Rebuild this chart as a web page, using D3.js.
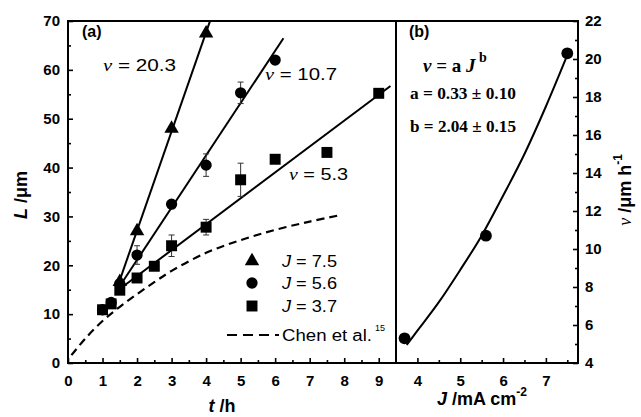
<!DOCTYPE html>
<html>
<head>
<meta charset="utf-8">
<script src="https://cdn.jsdelivr.net/npm/d3@7.9.0/dist/d3.min.js"></script>
<style>
  body { margin: 0; background: #fff; }
  svg { display: block; }
  .tick text { font-family: 'Liberation Sans', Arial, sans-serif; font-weight: bold; font-size: 15px; fill: #000; }
  .tick line { stroke: #000; stroke-width: 1.6; }
  .sans { font-family: 'Liberation Sans', Arial, sans-serif; }
  .serif { font-family: 'Liberation Serif', 'Times New Roman', serif; }
</style>
</head>
<body>
<svg width="641" height="417"></svg>
<script>
// panel (a): growth length L vs time t
const tTri = [1.5, 2, 3, 4];
const LTri = [16.6, 27, 48, 67.5];

const tCirc = [1, 1.25, 1.5, 2, 3, 4, 5, 6];
const LCirc = [10.9, 12.4, 16.2, 22.1, 32.5, 40.5, 55.3, 62];
const errCirc = [0, 0, 0, 1.9, 0, 2.3, 2.2, 0];

const tSq = [1, 1.25, 1.5, 2, 2.5, 3, 4, 5, 6, 7.5, 9];
const LSq = [10.9, 12.1, 14.9, 17.4, 19.8, 24, 27.8, 37.5, 41.7, 43.1, 55.2];
const errSq = [0, 0, 0, 0, 0, 2.2, 1.6, 3.4, 0, 0, 0];

// linear fits: rate (um/h), intercept, end time
const fitRate = [20.3, 10.7, 5.3];
const fitIntercept = [-13.5, -0.3, 7.2];
const fitStart = 1.4;
const fitEnd = [4.11, 6.24, 9.34];

// Chen et al. curve
const chenT = [0.1, 0.5, 1, 1.5, 2, 2.5, 3, 4, 5, 6, 7, 7.9];
const chenL = [1.6, 5.0, 8.6, 11.5, 14.1, 16.55, 18.85, 22.55, 25.15, 27.25, 28.95, 30.3];

// panel (b): rate v vs current density J
const JVals = [3.7, 5.6, 7.5];
const vVals = [5.3, 10.7, 20.3];
const fitJ = [3.75, 4, 4.5, 5, 5.5, 6, 6.5, 7, 7.5];
const fitV = [4.95, 5.7, 7.2, 8.9, 10.7, 12.8, 15.0, 17.5, 20.2];

const xTicksA = d3.range(0, 10);
const yTicksA = d3.range(0, 80, 10);
const xTicksB = [4, 5, 6, 7];
const yTicksB = d3.range(4, 24, 2);

const svg = d3.select('svg');
const pTop = 21, pBottom = 363, pLeft = 68, pMid = 396, pRight = 578;

const xA = d3.scaleLinear().domain([0, 9.5]).range([pLeft, pMid]);
const yA = d3.scaleLinear().domain([0, 70]).range([pBottom, pTop]);
const xB = d3.scaleLinear().domain([3.5, 7.75]).range([pMid, pRight]);
const yB = d3.scaleLinear().domain([4, 22]).range([pBottom, pTop]);

function addAxis(axis, transform) {
  const g = svg.append('g').attr('transform', transform).call(axis);
  g.select('.domain').remove();
  return g;
}

// major ticks + labels
addAxis(d3.axisBottom(xA).tickValues(xTicksA).tickSize(-5).tickPadding(12).tickFormat(d3.format('d')), `translate(0,${pBottom})`);
addAxis(d3.axisLeft(yA).tickValues(yTicksA).tickSize(-5).tickPadding(8), `translate(${pLeft},0)`);
addAxis(d3.axisBottom(xB).tickValues(xTicksB).tickSize(-5).tickPadding(12).tickFormat(d3.format('d')), `translate(0,${pBottom})`);
addAxis(d3.axisRight(yB).tickValues(yTicksB).tickSize(-5).tickPadding(7), `translate(${pRight},0)`);
// minor ticks
addAxis(d3.axisBottom(xA).tickValues(d3.range(0.5, 9.5, 1)).tickSize(-3).tickFormat(''), `translate(0,${pBottom})`);
addAxis(d3.axisLeft(yA).tickValues(d3.range(5, 70, 10)).tickSize(-3).tickFormat(''), `translate(${pLeft},0)`);
addAxis(d3.axisBottom(xB).tickValues([4.5, 5.5, 6.5, 7.5]).tickSize(-3).tickFormat(''), `translate(0,${pBottom})`);
addAxis(d3.axisRight(yB).tickValues(d3.range(5, 22, 2)).tickSize(-3).tickFormat(''), `translate(${pRight},0)`);

// frame
const frame = svg.append('g').attr('stroke', '#000').attr('stroke-width', 2).attr('fill', 'none');
frame.append('rect').attr('x', pLeft).attr('y', pTop).attr('width', pRight - pLeft).attr('height', pBottom - pTop);
frame.append('line').attr('x1', pMid).attr('x2', pMid).attr('y1', pTop).attr('y2', pBottom);

// clip for panel a
svg.append('clipPath').attr('id', 'clipA').append('rect')
  .attr('x', pLeft).attr('y', pTop).attr('width', pMid - pLeft).attr('height', pBottom - pTop);
const gA = svg.append('g').attr('clip-path', 'url(#clipA)');

// Chen dashed curve
const chen = chenT.map((t, i) => [t, chenL[i]]);
gA.append('path')
  .attr('d', d3.line().x(d => xA(d[0])).y(d => yA(d[1])).curve(d3.curveCatmullRom)(chen))
  .attr('fill', 'none').attr('stroke', '#000').attr('stroke-width', 2.2).attr('stroke-dasharray', '8,5');

// fit lines
fitRate.forEach((r, i) => {
  const b = fitIntercept[i];
  gA.append('line')
    .attr('x1', xA(fitStart)).attr('y1', yA(r * fitStart + b))
    .attr('x2', xA(fitEnd[i])).attr('y2', yA(r * fitEnd[i] + b))
    .attr('stroke', '#000').attr('stroke-width', 2);
});

// error bars
function errorBars(ts, Ls, errs) {
  ts.forEach((t, i) => {
    if (!errs[i]) return;
    const g = gA.append('g').attr('stroke', '#333').attr('stroke-width', 1);
    const x = xA(t);
    g.append('line').attr('x1', x).attr('x2', x).attr('y1', yA(Ls[i] - errs[i])).attr('y2', yA(Ls[i] + errs[i]));
    [Ls[i] - errs[i], Ls[i] + errs[i]].forEach(v => {
      g.append('line').attr('x1', x - 3).attr('x2', x + 3).attr('y1', yA(v)).attr('y2', yA(v));
    });
  });
}
errorBars(tSq, LSq, errSq);
errorBars(tCirc, LCirc, errCirc);

const sq = d3.symbol(d3.symbolSquare, 120);
const circ = d3.symbol(d3.symbolCircle, 100);
const tri = d3.symbol(d3.symbolTriangle, 90);

gA.selectAll('.sq').data(tSq).join('path')
  .attr('d', sq).attr('transform', (t, i) => `translate(${xA(t)},${yA(LSq[i])})`);
gA.selectAll('.ci').data(tCirc).join('path')
  .attr('d', circ).attr('transform', (t, i) => `translate(${xA(t)},${yA(LCirc[i])})`);
gA.selectAll('.tr').data(tTri).join('path')
  .attr('d', tri).attr('transform', (t, i) => `translate(${xA(t)},${yA(LTri[i])})`);

// panel b
const fit = fitJ.map((j, i) => [j, fitV[i]]);
svg.append('path')
  .attr('d', d3.line().x(d => xB(d[0])).y(d => yB(d[1])).curve(d3.curveMonotoneX)(fit))
  .attr('fill', 'none').attr('stroke', '#000').attr('stroke-width', 2);
svg.selectAll('.cb').data(JVals).join('path')
  .attr('d', d3.symbol(d3.symbolCircle, 110))
  .attr('transform', (j, i) => `translate(${xB(j)},${yB(vVals[i])})`);

// text helpers
function txt(x, y, cls, size, weight) {
  return svg.append('text').attr('x', x).attr('y', y).attr('class', cls)
    .attr('font-size', size).attr('font-weight', weight || 'normal');
}
function stretch(t, w) {
  return t.attr('textLength', w).attr('lengthAdjust', 'spacingAndGlyphs');
}

txt(82, 37, 'sans', 16, 'bold').text('(a)');
txt(409, 37, 'sans', 16, 'bold').text('(b)');

// rate labels
[[103, 71, '20.3', 73], [265, 80, '10.7', 72], [289, 180, '5.3', 59]].forEach(([x, y, v, w]) => {
  const t = stretch(txt(x, y, 'sans', 17), w);
  t.append('tspan').attr('class', 'serif').attr('font-style', 'italic').text('\u03bd');
  t.append('tspan').text(' = ' + v);
});

// legend
const legX = 252;
const legRows = [[tri, '7.5', 261], [circ, '5.6', 283], [sq, '3.7', 306]];
legRows.forEach(([sym, lab, y]) => {
  svg.append('path').attr('d', sym).attr('transform', `translate(${legX},${y})`);
  const t = stretch(txt(282, y + 6, 'sans', 16), 55);
  t.append('tspan').attr('font-style', 'italic').text('J');
  t.append('tspan').text(' = ' + lab);
});
svg.append('line').attr('x1', 227).attr('x2', 279).attr('y1', 335).attr('y2', 335)
  .attr('stroke', '#000').attr('stroke-width', 2.2).attr('stroke-dasharray', '10,6');
stretch(txt(282, 341, 'sans', 16), 90).text('Chen et al.');
txt(375, 331, 'sans', 9).text('15');

// formula
const f = txt(423, 72, 'serif', 19, 'bold');
f.append('tspan').attr('font-style', 'italic').text('\u03bd');
f.append('tspan').text('  = a ');
f.append('tspan').attr('font-style', 'italic').text('J');
f.append('tspan').attr('font-size', 14).attr('dy', -10).text(' b');
stretch(txt(410, 99, 'serif', 16, 'bold'), 106).text('a = 0.33 \u00b1 0.10');
stretch(txt(410, 132, 'serif', 16, 'bold'), 106).text('b = 2.04 \u00b1 0.15');

// axis titles
const tt = txt(222, 412, 'sans', 18, 'bold').attr('text-anchor', 'middle');
tt.append('tspan').attr('font-style', 'italic').text('t');
tt.append('tspan').text(' /h');

const jt = txt(482, 405, 'sans', 18, 'bold').attr('text-anchor', 'middle');
jt.append('tspan').attr('font-style', 'italic').text('J');
jt.append('tspan').text(' /mA cm');
jt.append('tspan').attr('font-size', 12).attr('dy', -9).text('-2');

const lt = svg.append('text').attr('class', 'sans').attr('font-size', 18).attr('font-weight', 'bold')
  .attr('text-anchor', 'middle').attr('transform', 'translate(27,195) rotate(-90)');
lt.append('tspan').attr('font-style', 'italic').text('L');
lt.append('tspan').text(' /\u03bcm');

const vt = svg.append('text').attr('class', 'sans').attr('font-size', 18).attr('font-weight', 'bold')
  .attr('text-anchor', 'middle').attr('transform', 'translate(631,190) rotate(-90)');
vt.append('tspan').attr('class', 'serif').attr('font-style', 'italic').attr('font-weight', 'normal').text('\u03bd');
vt.append('tspan').text(' /\u03bcm h');
vt.append('tspan').attr('font-size', 12).attr('dy', -9).text('-1');
</script>
</body>
</html>
